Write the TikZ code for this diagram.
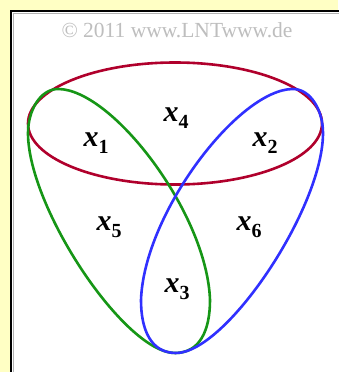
\documentclass[tikz,border=0pt]{standalone}
\usepackage{fontspec}
\setmainfont{Liberation Serif}
\definecolor{bgyellow}{RGB}{255,255,196}
\definecolor{redc}{RGB}{176,0,44}
\definecolor{greenc}{RGB}{22,150,22}
\definecolor{bluec}{RGB}{48,48,255}
\definecolor{copyc}{RGB}{190,190,190}
\newcommand\lbl[1]{{\fontsize{30}{30}\selectfont\bfseries\itshape x}\raisebox{-7pt}{\fontsize{20}{20}\selectfont\bfseries #1}}
\newcommand\eggpath{(58,89) .. controls (112,89) and (207,213) .. (210,300) .. controls (210,330) and (200,353) .. (175,353) .. controls (125,353) and (28,208) .. (28,133) .. controls (28,111) and (40,89) .. (58,89) -- cycle}
\tikzset{
  setline/.style={line width=2.6pt, line join=round},
  lab/.style={inner sep=0pt, anchor=center}
}
\begin{document}
\begin{tikzpicture}[x=1pt,y=-1pt]
\useasboundingbox (0,0) rectangle (338,372);
\fill[bgyellow] (0,0) rectangle (338,372);
\fill[white] (11,11) rectangle (345,380);
\draw[gray!60, line width=1pt] (13.5,380) -- (13.5,13.5) -- (345,13.5);
\draw[line width=2pt] (11,380) -- (11,11) -- (345,11);
\node[inner sep=0pt, text=copyc, font=\fontsize{21.5}{22}\selectfont] (copy) at (177,30) {© 2011 www.LNTwww.de};
\coordinate (rc) at (175,123.5);
\draw[setline, redc] (rc) ellipse (147 and 61);
\draw[setline, greenc] \eggpath;
\begin{scope}[xshift=351pt, xscale=-1]
\draw[setline, bluec] \eggpath;
\end{scope}
\node[lab] (x1) at (96,143) {\lbl{1}};
\node[lab] (x4) at (176,118) {\lbl{4}};
\node[lab] (x2) at (265,143) {\lbl{2}};
\node[lab] (x5) at (109,227) {\lbl{5}};
\node[lab] (x6) at (249,227) {\lbl{6}};
\node[lab] (x3) at (177,289) {\lbl{3}};
\end{tikzpicture}
\end{document}
